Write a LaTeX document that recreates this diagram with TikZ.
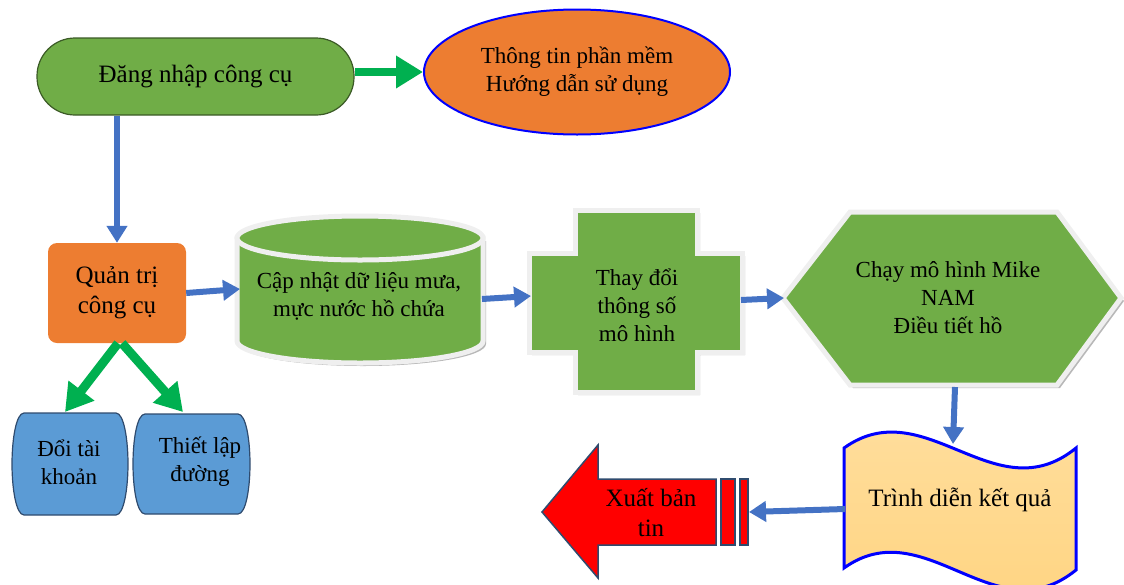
\documentclass[tikz,border=0pt]{standalone}
\usepackage{fontspec}
\setmainfont{Liberation Serif}
\usetikzlibrary{arrows.meta,shapes.geometric}
\definecolor{cgreen}{HTML}{70AD47}
\definecolor{corange}{HTML}{ED7D31}
\definecolor{cblue}{HTML}{5B9BD5}
\definecolor{abl}{HTML}{4472C4}
\definecolor{agr}{HTML}{00B050}
\definecolor{olive}{HTML}{3B5A26}
\definecolor{navy}{HTML}{2F4B6E}
\definecolor{edgegray}{HTML}{EFEFEF}
\definecolor{shad}{HTML}{B8B8B8}
\definecolor{wavetop}{HTML}{FFDFA0}
\definecolor{wavebot}{HTML}{FFD37E}
\begin{document}
\begin{tikzpicture}[x=1pt,y=-1pt,
  txt/.style={font=\fontsize{23}{28}\selectfont, align=center, text=black, inner sep=0pt},
  txtbig/.style={font=\fontsize{25}{30}\selectfont, align=center, text=black, inner sep=0pt},
  bluearrow/.style={draw=abl, line width=6pt, -{Triangle[length=17pt,width=20pt]}},
  greenarrow/.style={draw=agr, line width=9pt, -{Triangle[length=27pt,width=31pt]}},
  panel/.style={fill=cgreen, draw=edgegray, line width=5pt, line join=miter},
  shadowfill/.style={fill=shad}
]
\useasboundingbox (0,0) rectangle (1124,584);

% top row
\node[draw=olive, line width=1.2pt, fill=cgreen, rounded corners=38pt,
      minimum width=317pt, minimum height=77pt, txtbig] (login) at (195.5,76.5) {Đăng nhập công cụ};
\node[ellipse, draw=blue, line width=2pt, fill=corange, minimum width=306pt,
      minimum height=125pt, txt] (info) at (577,72) {Thông tin phần mềm\\Hướng dẫn sử dụng};

% admin
\node[fill=corange, rounded corners=9pt, minimum width=138pt, minimum height=100pt, txtbig]
      (admin) at (117,293) {Quản trị\\công cụ};

% barrel boxes
\draw[fill=cblue, draw=navy, line width=1.2pt] (24,413) -- (116,413)
  .. controls (124,413) and (128,440) .. (128,464)
  .. controls (128,488) and (124,515) .. (116,515) -- (24,515)
  .. controls (16,515) and (12,488) .. (12,464)
  .. controls (12,440) and (16,413) .. (24,413) -- cycle;
\draw[fill=cblue, draw=navy, line width=1.2pt] (145,414) -- (238,414)
  .. controls (246,414) and (250,440) .. (250,464)
  .. controls (250,488) and (246,514) .. (238,514) -- (145,514)
  .. controls (137,514) and (133,488) .. (133,464)
  .. controls (133,440) and (137,414) .. (145,414) -- cycle;
\node[txt] (acct) at (69,462) {Đổi tài\\khoản};
\node[txt] (route) at (200,462) {Thiết lập\\đường};
\coordinate (acctin) at (65,412);
\coordinate (routein) at (183,412);

% cylinder
\fill[shadowfill] (240,241) -- (240,344) arc[start angle=180,end angle=0,x radius=123,y radius=22] -- (486,241) -- cycle;
\draw[panel] (237,238) -- (237,341) arc[start angle=180,end angle=0,x radius=123,y radius=22] -- (483,238) -- cycle;
\draw[panel] (360,238) ellipse[x radius=123, y radius=22];
\node[txt] (cyl) at (359,296) {Cập nhật dữ liệu mưa,\\mực nước hồ chứa};
\coordinate (cylin) at (240,289);
\coordinate (cylout) at (482,299);

% cross
\fill[shadowfill] (578,213) -- (700,213) -- (700,256) -- (745,256) -- (745,355) -- (700,355)
  -- (700,395) -- (578,395) -- (578,355) -- (532,355) -- (532,256) -- (578,256) -- cycle;
\draw[panel] (575,210) -- (697,210) -- (697,253) -- (742,253) -- (742,352) -- (697,352)
  -- (697,392) -- (575,392) -- (575,352) -- (529,352) -- (529,253) -- (575,253) -- cycle;
\node[txt] (param) at (637,305) {Thay đổi\\thông số\\mô hình};
\coordinate (crossin) at (531,296);
\coordinate (crossout) at (741,300);

% hexagon
\fill[shadowfill] (786,301) -- (853,215) -- (1060,215) -- (1124,301) -- (1060,388) -- (853,388) -- cycle;
\draw[panel] (783,298) -- (850,212) -- (1057,212) -- (1121,298) -- (1057,385) -- (850,385) -- cycle;
\node[txt] (run) at (948,298) {Chạy mô hình Mike\\NAM\\Điều tiết hồ};
\coordinate (hexin) at (784,298);
\coordinate (hexout) at (955,387);

% wave
\draw[draw=blue, line width=3pt, top color=wavetop, bottom color=wavebot]
  (844,448) .. controls (925,390) and (995,514) .. (1076,448)
  -- (1076,570) .. controls (995,636) and (925,510) .. (844,568) -- cycle;
\node[txtbig] (show) at (960,500) {Trình diễn kết quả};
\coordinate (wavein) at (953,444);
\coordinate (waveout) at (845,509);

% red arrow
\draw[fill=red, draw=navy, line width=1.5pt, line join=miter]
  (542,512) -- (598,445) -- (598,479) -- (716,479) -- (716,545) -- (598,545) -- (598,578) -- cycle;
\draw[fill=red, draw=navy, line width=1.5pt] (721,479) rectangle (735,545);
\draw[fill=red, draw=navy, line width=1.5pt] (740,479) rectangle (748,545);
\node[txtbig] (pub) at (651,513) {Xuất bản\\tin};
\coordinate (pubin) at (749,512);

% connectors
\draw[greenarrow, line width=8pt] (login.east |- info.west) -- (info.west);
\draw[bluearrow] (admin.north |- login.south) -- (admin.north);
\draw[greenarrow] ([xshift=1pt]admin.south) -- (acctin);
\draw[greenarrow] ([xshift=5pt]admin.south) -- (routein);
\draw[bluearrow] (admin.east) -- (cylin);
\draw[bluearrow] (cylout) -- (crossin);
\draw[bluearrow] (crossout) -- (hexin);
\draw[bluearrow] (hexout) -- (wavein);
\draw[bluearrow] (waveout) -- (pubin);
\end{tikzpicture}
\end{document}
